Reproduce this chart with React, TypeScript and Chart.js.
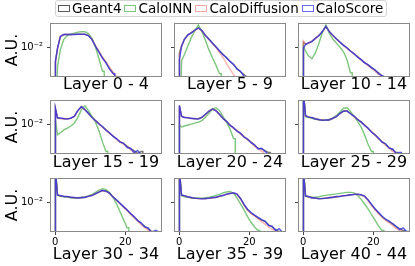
import React, { useEffect, useRef } from 'react';
import { Chart, registerables } from 'chart.js';

Chart.register(...registerables);

const FONT = "'DejaVu Sans', 'Noto Sans', sans-serif";
Chart.defaults.font.family = FONT;

// ---------------- data ----------------
const seriesNames = ['Geant4', 'CaloINN', 'CaloDiffusion', 'CaloScore'];
const panelTitles = [
  'Layer 0 - 4', 'Layer 5 - 9', 'Layer 10 - 14',
  'Layer 15 - 19', 'Layer 20 - 24', 'Layer 25 - 29',
  'Layer 30 - 34', 'Layer 35 - 39', 'Layer 40 - 44',
];
// histogram bin edges (shared by every panel)
const binEdges = [0, 0.4, 1, 2, 3, 4, 5, 6, 7, 8, 9, 10, 11, 12, 13, 14, 15, 16, 17, 18, 19, 20, 21, 22, 23, 24, 25, 26, 27, 28, 29, 30];
const xTickValues = [0, 20];
const yTickValues = [0.01];
const yTickLabels = ['10⁻²'];
const X_RANGE = [-1.45, 30.45];
const Y_RANGE = [0.00136, 0.05];

// bin contents (A.U.), one list per panel, in panel order
const geant4: number[][] = [
  [0.0038, 0.0094, 0.0203, 0.0231, 0.0232, 0.0233, 0.0234, 0.0235, 0.0235, 0.0234, 0.0217, 0.0168, 0.0107, 0.0073, 0.0049, 0.0036, 0.0024, 0.0018, 0.0012],
  [0.0068, 0.0107, 0.0168, 0.0224, 0.0263, 0.0309, 0.0363, 0.0299, 0.0217, 0.0168, 0.0130, 0.0100, 0.0077, 0.0062, 0.0049, 0.0039, 0.0031, 0.0024, 0.0019, 0.0016, 0.0013],
  [0.0138, 0.0122, 0.0130, 0.0147, 0.0179, 0.0217, 0.0280, 0.0399, 0.0280, 0.0217, 0.0173, 0.0138, 0.0114, 0.0094, 0.0077, 0.0064, 0.0053, 0.0043, 0.0036, 0.0030, 0.0026, 0.0021, 0.0018, 0.0014],
  [0.0280, 0.0152, 0.0147, 0.0143, 0.0143, 0.0147, 0.0168, 0.0246, 0.0319, 0.0263, 0.0203, 0.0157, 0.0126, 0.0103, 0.0083, 0.0068, 0.0055, 0.0045, 0.0037, 0.0031, 0.0027, 0.0023, 0.0019, 0.0017, 0.0014, 0.0016],
  [0.0340, 0.0168, 0.0157, 0.0152, 0.0147, 0.0143, 0.0143, 0.0157, 0.0191, 0.0239, 0.0272, 0.0246, 0.0191, 0.0147, 0.0118, 0.0094, 0.0077, 0.0064, 0.0053, 0.0043, 0.0036, 0.0030, 0.0024, 0.0020, 0.0019, 0.0017, 0.0015],
  [0.08, 0.0173, 0.0162, 0.0152, 0.0143, 0.0134, 0.0130, 0.0130, 0.0134, 0.0147, 0.0168, 0.0203, 0.0239, 0.0239, 0.0203, 0.0168, 0.0138, 0.0114, 0.0094, 0.0075, 0.0060, 0.0048, 0.0038, 0.0031, 0.0026, 0.0021, 0.0018, 0.0015],
  [0.08, 0.0162, 0.0152, 0.0147, 0.0143, 0.0138, 0.0134, 0.0134, 0.0134, 0.0138, 0.0147, 0.0157, 0.0173, 0.0197, 0.0217, 0.0210, 0.0179, 0.0143, 0.0114, 0.0091, 0.0073, 0.0058, 0.0046, 0.0037, 0.0030, 0.0024, 0.0020, 0.0017, 0.0014],
  [0.08, 0.0162, 0.0152, 0.0143, 0.0134, 0.0130, 0.0126, 0.0126, 0.0126, 0.0130, 0.0134, 0.0138, 0.0147, 0.0157, 0.0168, 0.0179, 0.0185, 0.0168, 0.0125, 0.0083, 0.0060, 0.0048, 0.0041, 0.0035, 0.0030, 0.0027, 0.0022, 0.0019, 0.0016, 0.0014],
  [0.08, 0.0152, 0.0143, 0.0134, 0.0130, 0.0126, 0.0126, 0.0130, 0.0134, 0.0138, 0.0143, 0.0147, 0.0152, 0.0157, 0.0162, 0.0168, 0.0168, 0.0162, 0.0147, 0.0114, 0.0083, 0.0062, 0.0048, 0.0038, 0.0031, 0.0027, 0.0023, 0.0019, 0.0017, 0.0015],
];

const caloINN: number[][] = [
  [0, 0.0028, 0.0083, 0.0168, 0.0217, 0.0239, 0.0255, 0.0272, 0.0280, 0.0281, 0.0246, 0.0179, 0.0100, 0.0046, 0.0020],
  [0, 0.0041, 0.0060, 0.0107, 0.0191, 0.0299, 0.0440, 0.0280, 0.0157, 0.0083, 0.0049, 0.0030, 0.0017],
  [0.0107, 0.0077, 0.0056, 0.0046, 0.0068, 0.0130, 0.0263, 0.0440, 0.0246, 0.0168, 0.0130, 0.0100, 0.0073, 0.0043, 0.0018],
  [0.0130, 0.0049, 0.0056, 0.0068, 0.0077, 0.0088, 0.0107, 0.0157, 0.0263, 0.0340, 0.0246, 0.0168, 0.0114, 0.0064, 0.0030, 0.0016],
  [0.0094, 0.0083, 0.0088, 0.0094, 0.0100, 0.0107, 0.0114, 0.0126, 0.0157, 0.0203, 0.0272, 0.0299, 0.0246, 0.0168, 0.0114, 0.0073, 0.0038],
  [0.08, 0.0162, 0.0157, 0.0147, 0.0138, 0.0134, 0.0130, 0.0130, 0.0138, 0.0152, 0.0179, 0.0224, 0.0290, 0.0299, 0.0231, 0.0168, 0.0122, 0.0083, 0.0049, 0.0026, 0.0016],
  [0.08, 0.0157, 0.0147, 0.0143, 0.0138, 0.0134, 0.0134, 0.0134, 0.0138, 0.0143, 0.0152, 0.0168, 0.0191, 0.0224, 0.0246, 0.0231, 0.0191, 0.0138, 0.0088, 0.0053, 0.0031, 0.0018],
  [0.08, 0.0152, 0.0143, 0.0138, 0.0134, 0.0130, 0.0130, 0.0130, 0.0134, 0.0138, 0.0147, 0.0157, 0.0168, 0.0185, 0.0197, 0.0203, 0.0179, 0.0130, 0.0088, 0.0060, 0.0038, 0.0026, 0.0019, 0.0015],
  [0.08, 0.0147, 0.0143, 0.0138, 0.0138, 0.0143, 0.0152, 0.0157, 0.0162, 0.0168, 0.0173, 0.0179, 0.0185, 0.0191, 0.0191, 0.0185, 0.0157, 0.0122, 0.0088, 0.0064, 0.0043, 0.0030, 0.0020, 0.0015],
];

const caloDiffusion: number[][] = [
  [0.0036, 0.0096, 0.0201, 0.0230, 0.0233, 0.0232, 0.0235, 0.0234, 0.0236, 0.0233, 0.0219, 0.0170, 0.0110, 0.0075, 0.0051, 0.0037, 0.0026, 0.0019, 0.0014],
  [0.0062, 0.0110, 0.0170, 0.0222, 0.0265, 0.0306, 0.0360, 0.0296, 0.0214, 0.0165, 0.0127, 0.0097, 0.0069, 0.0050, 0.0034, 0.0023, 0.0016, 0.0012],
  [0.0150, 0.0125, 0.0128, 0.0149, 0.0176, 0.0220, 0.0276, 0.0395, 0.0284, 0.0214, 0.0175, 0.0136, 0.0116, 0.0092, 0.0078, 0.0062, 0.0054, 0.0042, 0.0035, 0.0029, 0.0024, 0.0020, 0.0016],
  [0.0270, 0.0155, 0.0145, 0.0141, 0.0145, 0.0149, 0.0165, 0.0243, 0.0315, 0.0266, 0.0200, 0.0159, 0.0124, 0.0105, 0.0081, 0.0069, 0.0053, 0.0046, 0.0036, 0.0030, 0.0026, 0.0022, 0.0018, 0.0015],
  [0.0330, 0.0165, 0.0160, 0.0150, 0.0149, 0.0141, 0.0145, 0.0155, 0.0188, 0.0242, 0.0269, 0.0249, 0.0188, 0.0150, 0.0116, 0.0096, 0.0075, 0.0065, 0.0051, 0.0044, 0.0035, 0.0029, 0.0023, 0.0019, 0.0016],
  [0.08, 0.0170, 0.0165, 0.0150, 0.0145, 0.0132, 0.0131, 0.0128, 0.0136, 0.0145, 0.0171, 0.0200, 0.0242, 0.0236, 0.0206, 0.0165, 0.0140, 0.0112, 0.0096, 0.0073, 0.0061, 0.0047, 0.0037, 0.0030, 0.0024, 0.0020, 0.0016],
  [0.08, 0.0165, 0.0150, 0.0149, 0.0141, 0.0140, 0.0132, 0.0136, 0.0133, 0.0140, 0.0145, 0.0160, 0.0170, 0.0200, 0.0214, 0.0212, 0.0176, 0.0145, 0.0112, 0.0089, 0.0070, 0.0056, 0.0044, 0.0035, 0.0028, 0.0022, 0.0018, 0.0015],
  [0.08, 0.0165, 0.0150, 0.0145, 0.0132, 0.0131, 0.0124, 0.0128, 0.0125, 0.0132, 0.0133, 0.0140, 0.0145, 0.0159, 0.0166, 0.0181, 0.0183, 0.0165, 0.0122, 0.0080, 0.0058, 0.0046, 0.0039, 0.0033, 0.0027, 0.0023, 0.0019, 0.0016],
  [0.08, 0.0155, 0.0141, 0.0136, 0.0128, 0.0128, 0.0124, 0.0132, 0.0132, 0.0140, 0.0141, 0.0149, 0.0150, 0.0159, 0.0160, 0.0170, 0.0166, 0.0160, 0.0144, 0.0111, 0.0080, 0.0060, 0.0046, 0.0036, 0.0030, 0.0025, 0.0021, 0.0017, 0.0015],
];

const caloScore: number[][] = [
  [0.0040, 0.0092, 0.0205, 0.0232, 0.0231, 0.0234, 0.0233, 0.0235, 0.0234, 0.0235, 0.0215, 0.0166, 0.0105, 0.0072, 0.0048, 0.0035, 0.0023, 0.0017],
  [0.0043, 0.0104, 0.0165, 0.0226, 0.0260, 0.0312, 0.0358, 0.0302, 0.0219, 0.0171, 0.0132, 0.0102, 0.0078, 0.0060, 0.0050, 0.0038, 0.0032, 0.0023, 0.0020, 0.0014],
  [0.0094, 0.0118, 0.0132, 0.0145, 0.0181, 0.0214, 0.0283, 0.0402, 0.0277, 0.0219, 0.0171, 0.0140, 0.0112, 0.0096, 0.0076, 0.0065, 0.0051, 0.0044, 0.0035, 0.0031, 0.0025, 0.0022, 0.0017, 0.0015, 0.0013],
  [0.0290, 0.0150, 0.0150, 0.0145, 0.0140, 0.0150, 0.0170, 0.0249, 0.0322, 0.0260, 0.0206, 0.0155, 0.0128, 0.0101, 0.0085, 0.0066, 0.0056, 0.0044, 0.0038, 0.0030, 0.0028, 0.0021, 0.0020, 0.0015, 0.0017, 0.0013],
  [0.0350, 0.0170, 0.0155, 0.0154, 0.0145, 0.0146, 0.0140, 0.0159, 0.0194, 0.0236, 0.0275, 0.0243, 0.0194, 0.0145, 0.0120, 0.0092, 0.0079, 0.0062, 0.0055, 0.0042, 0.0037, 0.0029, 0.0025, 0.0019, 0.0020, 0.0016, 0.0013],
  [0.08, 0.0176, 0.0160, 0.0155, 0.0141, 0.0136, 0.0128, 0.0132, 0.0132, 0.0149, 0.0165, 0.0206, 0.0236, 0.0242, 0.0200, 0.0171, 0.0136, 0.0116, 0.0092, 0.0077, 0.0058, 0.0049, 0.0039, 0.0030, 0.0027, 0.0020, 0.0019, 0.0014, 0.0015],
  [0.08, 0.0160, 0.0155, 0.0145, 0.0146, 0.0136, 0.0136, 0.0132, 0.0136, 0.0136, 0.0149, 0.0155, 0.0176, 0.0194, 0.0220, 0.0207, 0.0182, 0.0140, 0.0116, 0.0093, 0.0074, 0.0060, 0.0047, 0.0038, 0.0029, 0.0025, 0.0019, 0.0018, 0.0013, 0.0015],
  [0.08, 0.0160, 0.0154, 0.0141, 0.0136, 0.0128, 0.0128, 0.0124, 0.0127, 0.0128, 0.0136, 0.0136, 0.0149, 0.0155, 0.0170, 0.0177, 0.0187, 0.0171, 0.0128, 0.0086, 0.0062, 0.0050, 0.0042, 0.0036, 0.0031, 0.0028, 0.0021, 0.0020, 0.0015, 0.0017, 0.0013],
  [0.08, 0.0150, 0.0145, 0.0132, 0.0132, 0.0124, 0.0128, 0.0128, 0.0136, 0.0136, 0.0145, 0.0145, 0.0154, 0.0155, 0.0164, 0.0166, 0.0170, 0.0164, 0.0150, 0.0117, 0.0086, 0.0064, 0.0050, 0.0039, 0.0032, 0.0028, 0.0024, 0.0020, 0.0016, 0.0018, 0.0014],
];

const allSeries = [geant4, caloINN, caloDiffusion, caloScore];

// ---------------- styles / layout ----------------
const lineColors = ['rgba(70,70,70,0.75)', 'rgba(70,175,70,0.7)', 'rgba(245,120,110,0.55)', 'rgba(45,45,230,0.78)'];
const legendColors = ['#5a5a5a', '#7cc67c', '#f6aaa4', '#6a6af0'];
const drawOrder = [3, 2, 1, 0];
const COL_X = [50, 174, 298];
const ROW_Y = [21, 98, 176];
const PLOT_W = 112;
const PLOT_H = 56;
const Y_AXIS_W = 50;
const PAD_TOP = 8;
const PAD_RIGHT = 6;
const X_AXIS_H = [17, 18, 32];
const FLOOR = 1e-6;

// histogram outline: vertical rise at the first edge, bin centres, vertical drop at the last edge
function toOutline(vals: number[]) {
  const n = Math.min(vals.length, binEdges.length - 1);
  const val = (i: number) => (vals[i] > 0 ? vals[i] : FLOOR);
  const pts: { x: number; y: number }[] = [
    { x: binEdges[0], y: FLOOR },
    { x: binEdges[0], y: val(0) },
  ];
  for (let i = 0; i < n; i++) pts.push({ x: (binEdges[i] + binEdges[i + 1]) / 2, y: val(i) });
  pts.push({ x: binEdges[n], y: val(n - 1) });
  pts.push({ x: binEdges[n], y: FLOOR });
  return pts;
}

const framePlugin = {
  id: 'frame',
  afterDatasetsDraw(chart: any) {
    const { ctx, chartArea } = chart;
    const { left, top, right, bottom } = chartArea;
    ctx.save();
    ctx.strokeStyle = '#8a8a8a';
    ctx.lineWidth = 1;
    ctx.strokeRect(left + 0.5, top + 0.5, right - left - 1, bottom - top - 1);
    ctx.restore();
  },
};

function Panel({ idx }: { idx: number }) {
  const ref = useRef<HTMLCanvasElement | null>(null);
  const row = Math.floor(idx / 3);
  const col = idx % 3;
  const W = Y_AXIS_W + PLOT_W + PAD_RIGHT;
  const H = PAD_TOP + PLOT_H + X_AXIS_H[row];
  const left = COL_X[col] - Y_AXIS_W;
  const top = ROW_Y[row] - PAD_TOP;

  useEffect(() => {
    if (!ref.current) return;
    const datasets = allSeries.map((s, k) => ({
      label: seriesNames[k],
      data: toOutline(s[idx]),
      borderColor: lineColors[k],
      borderWidth: 1.4,
      pointRadius: 0,
      fill: false,
      tension: 0,
      order: drawOrder[k],
    }));
    const bottomRow = row === 2;
    const chart = new Chart(ref.current, {
      type: 'line',
      data: { datasets },
      options: {
        animation: false,
        responsive: false,
        maintainAspectRatio: false,
        devicePixelRatio: 1,
        events: [],
        layout: { padding: { left: 0, top: PAD_TOP, right: PAD_RIGHT, bottom: 0 } },
        plugins: { legend: { display: false }, tooltip: { enabled: false } },
        scales: {
          x: {
            type: 'linear',
            min: X_RANGE[0],
            max: X_RANGE[1],
            afterBuildTicks: (s: any) => {
              s.ticks = xTickValues.map((v) => ({ value: v }));
            },
            afterFit: (s: any) => {
              s.height = X_AXIS_H[row];
            },
            ticks: {
              display: bottomRow,
              autoSkip: false,
              maxRotation: 0,
              padding: 1,
              color: '#000',
              font: { size: 10, family: FONT },
              callback: (v: any) => String(v),
            },
            grid: { display: bottomRow, drawOnChartArea: false, drawTicks: true, tickLength: 3, color: '#444' },
            border: { display: false },
            title: {
              display: true,
              text: panelTitles[idx],
              color: '#000',
              font: { size: 16, family: FONT },
              padding: { top: 0, bottom: 0 },
            },
          },
          y: {
            type: 'logarithmic',
            min: Y_RANGE[0],
            max: Y_RANGE[1],
            afterBuildTicks: (s: any) => {
              s.ticks = yTickValues.map((v) => ({ value: v }));
            },
            afterFit: (s: any) => {
              s.width = Y_AXIS_W;
            },
            ticks: {
              padding: 4,
              color: '#000',
              font: { size: 10, family: FONT },
              callback: (v: any) => {
                if (col !== 0) return '';
                const i = yTickValues.indexOf(Number(v));
                return i >= 0 ? yTickLabels[i] : '';
              },
            },
            grid: { display: true, drawOnChartArea: false, drawTicks: true, tickLength: 3, color: '#444' },
            border: { display: false },
            title: {
              display: col === 0,
              text: 'A.U.',
              color: '#000',
              font: { size: 16, family: FONT },
              padding: { top: 3, bottom: 0 },
            },
          },
        },
      } as any,
      plugins: [framePlugin],
    });
    return () => chart.destroy();
  }, [idx]);

  return (
    <canvas
      ref={ref}
      width={W}
      height={H}
      style={{ position: 'absolute', left, top, width: W, height: H }}
    />
  );
}

function Legend() {
  return (
    <div
      style={{
        position: 'absolute',
        left: 55,
        top: 0,
        height: 17,
        display: 'flex',
        alignItems: 'center',
        padding: '0 3px 0 2px',
        border: '1px solid #d4d4d4',
        borderRadius: 3,
        background: 'rgba(255,255,255,0.8)',
        fontFamily: FONT,
        fontSize: 13.5,
        color: '#000',
        whiteSpace: 'nowrap',
        boxSizing: 'border-box',
      }}
    >
      {seriesNames.map((n, k) => (
        <div key={n} style={{ display: 'flex', alignItems: 'center', marginRight: k < 3 ? 3 : 0 }}>
          <span
            style={{
              display: 'inline-block',
              width: 12,
              height: 7,
              boxSizing: 'border-box',
              border: `1.3px solid ${legendColors[k]}`,
              marginRight: 2,
            }}
          />
          <span style={{ lineHeight: '15px' }}>{n}</span>
        </div>
      ))}
    </div>
  );
}

export default function App() {
  return (
    <div style={{ position: 'absolute', left: 0, top: 0, width: 415, height: 266, background: '#fff', overflow: 'hidden' }}>
      {panelTitles.map((_, i) => (
        <Panel key={i} idx={i} />
      ))}
      <Legend />
    </div>
  );
}
